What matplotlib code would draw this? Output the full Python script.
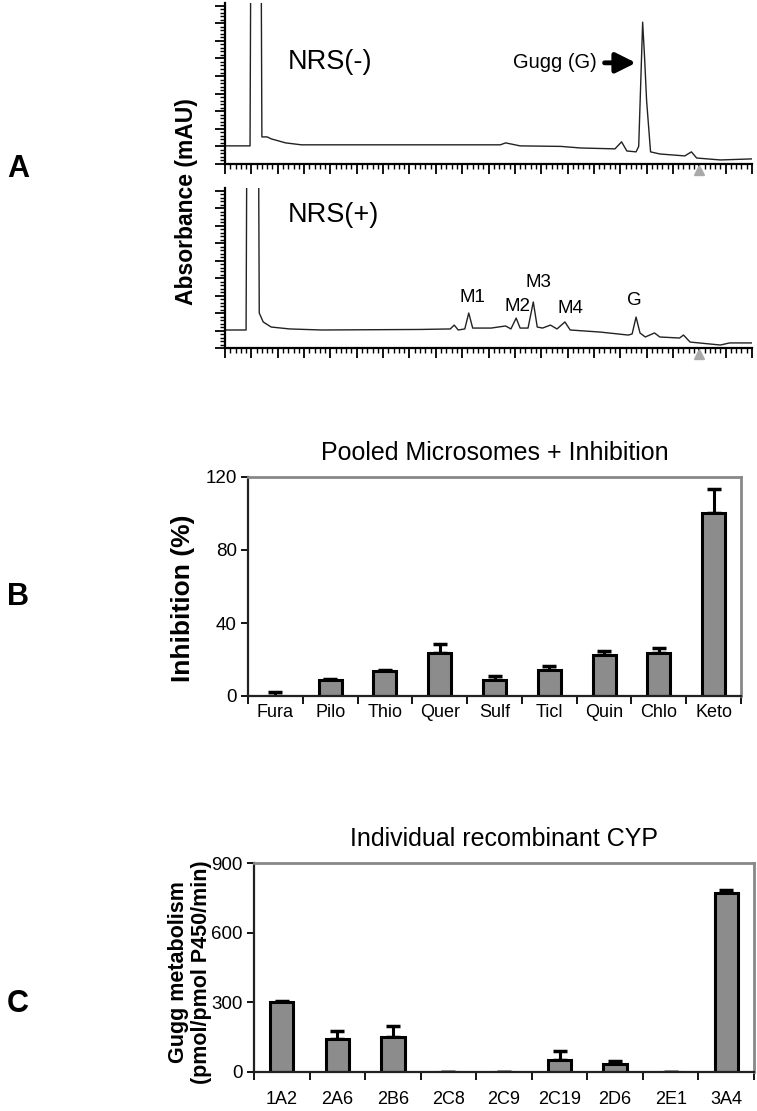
import matplotlib.pyplot as plt
from matplotlib.ticker import MultipleLocator

# chromatogram traces (time in min, absorbance in mAU)
t_minus = [0, 1.9, 2.0, 2.7, 2.8, 3.2, 3.5, 4.6, 5.8, 13.3, 20.9, 21.3, 22.4, 25.5, 27.0,
           29.6, 30.1, 30.5, 31.2, 31.4, 31.55, 31.7, 31.85, 32.0, 32.3, 33.0, 34.9, 35.4,
           35.8, 37.6, 40.0]
a_minus = [10.3, 10.3, 200, 200, 15.4, 15.4, 14.3, 12.0, 10.9, 10.9, 10.9, 12.0, 10.3, 10.0,
           9.1, 8.6, 12.6, 7.4, 6.9, 10, 45, 80.6, 60, 36, 6.9, 5.7, 4.6, 6.9, 3.4, 2.3, 2.9]

t_plus = [0, 1.6, 1.7, 2.5, 2.6, 2.9, 3.5, 4.9, 7.3, 14.8, 17.1, 17.4, 17.7, 18.2, 18.5,
          18.8, 20.2, 21.3, 21.7, 22.1, 22.4, 23.0, 23.4, 23.7, 24.1, 24.7, 25.2, 25.8,
          26.2, 28.5, 30.6, 30.9, 31.2, 31.5, 31.9, 32.6, 33.0, 34.5, 34.8, 35.3, 37.6,
          38.3, 40.0]
a_plus = [10.3, 10.3, 200, 200, 20.0, 14.9, 12.0, 10.9, 10.3, 10.6, 10.9, 13.1, 10.3, 10.9,
          20.0, 11.4, 11.4, 12.6, 10.9, 17.1, 11.4, 11.4, 26.3, 12.0, 11.4, 13.1, 10.9,
          14.9, 10.3, 9.1, 7.4, 8.0, 17.7, 8.6, 6.3, 8.6, 6.3, 5.7, 7.4, 3.4, 1.7, 2.9, 2.9]

peak_labels = ['M1', 'M2', 'M3', 'M4', 'G']
peak_t = [18.8, 22.2, 23.8, 26.2, 31.1]
peak_a = [29, 23.5, 37.5, 22.5, 27]

# panel B: pooled microsomes + inhibitors
inhibitors = ['Fura', 'Pilo', 'Thio', 'Quer', 'Sulf', 'Ticl', 'Quin', 'Chlo', 'Keto']
inhib_pct = [0, 9, 13.5, 23.5, 9, 14, 22.5, 23.5, 100]
inhib_err = [2, 0.5, 1, 5, 2, 2.2, 2, 3, 13.5]

# panel C: recombinant CYPs
cyps = ['1A2', '2A6', '2B6', '2C8', '2C9', '2C19', '2D6', '2E1', '3A4']
cyp_rate = [300, 141, 151, 0, 0, 50, 36, 0, 769]
cyp_err = [4, 35, 49, 0, 0, 41, 12, 0, 14]

plt.rcParams['font.family'] = ['Liberation Sans', 'DejaVu Sans']

W, H = 757, 1111
fig = plt.figure(figsize=(W / 100, H / 100), dpi=100)


def box(l, t, r, b):
    return [l / W, 1 - b / H, (r - l) / W, (b - t) / H]


def chrom(ax, t, a, tri_y):
    ax.plot(t, a, color='#222222', lw=1.0)
    ax.set_xlim(0, 40)
    ax.set_ylim(0, 91.5)
    for s in ['top', 'right']:
        ax.spines[s].set_visible(False)
    for s in ['left', 'bottom']:
        ax.spines[s].set_linewidth(1.6)
    ax.xaxis.set_major_locator(MultipleLocator(2))
    ax.xaxis.set_minor_locator(MultipleLocator(0.4))
    ax.yaxis.set_major_locator(MultipleLocator(10))
    ax.yaxis.set_minor_locator(MultipleLocator(2))
    ax.tick_params(which='major', length=7, width=1.3, labelbottom=False, labelleft=False)
    ax.tick_params(which='minor', length=3.5, width=1.0)
    ax.plot([36.0], [tri_y], marker='^', color='#aaaaaa', ms=7, clip_on=False)


ax1 = fig.add_axes(box(225, 3, 752, 164))
chrom(ax1, t_minus, a_minus, -3.6)
ax1.text(4.8, 58, 'NRS(-)', fontsize=19.5, va='center')
ax1.annotate('', xy=(31.4, 57.5), xytext=(28.6, 57.5),
             arrowprops=dict(arrowstyle='-|>', lw=3.5, color='black', mutation_scale=30))
ax1.text(28.2, 57.5, 'Gugg (G)', fontsize=14.5, va='center', ha='right')

ax2 = fig.add_axes(box(225, 188, 752, 348))
chrom(ax2, t_plus, a_plus, -3.2)
ax2.text(4.8, 76, 'NRS(+)', fontsize=19.5, va='center')
for lab, x, y in zip(peak_labels, peak_t, peak_a):
    ax2.text(x, y, lab, fontsize=13.5, ha='center', va='center')

fig.text(186 / W, 1 - 202 / H, 'Absorbance (mAU)', rotation=90, fontsize=16.5,
         fontweight='bold', ha='center', va='center')


def bars(ax, labels, vals, errs, ymax, step, title, xpad):
    x = list(range(len(labels)))
    ax.bar(x, vals, width=0.42, color='#8c8c8c', edgecolor='black', linewidth=2.2, zorder=2)
    ax.errorbar(x, vals, yerr=[[0] * len(vals), errs], fmt='none', ecolor='black',
                elinewidth=2.2, capsize=5, capthick=2.5, zorder=1)
    ax.set_xlim(-0.5, len(labels) - 0.5)
    ax.set_ylim(0, ymax)
    ax.set_yticks(range(0, ymax + 1, step))
    ax.set_xticks(x)
    ax.set_xticklabels(labels, fontsize=13)
    ax.set_xticks([i + 0.5 for i in range(-1, len(labels))], minor=True)
    ax.tick_params(axis='x', which='major', length=0, pad=xpad)
    ax.tick_params(axis='x', which='minor', length=6, width=1.3)
    ax.tick_params(axis='y', length=5, width=1.3, pad=3, labelsize=13.5)
    for s in ['left', 'bottom']:
        ax.spines[s].set_linewidth(1.6)
        ax.spines[s].set_color('#222222')
    for s in ['top', 'right']:
        ax.spines[s].set_linewidth(2)
        ax.spines[s].set_color('#888888')
    ax.set_title(title, fontsize=18, pad=12)


ax3 = fig.add_axes(box(248, 477, 741, 696))
bars(ax3, inhibitors, inhib_pct, inhib_err, 120, 40, 'Pooled Microsomes + Inhibition', 6)
fig.text(183 / W, 1 - 598 / H, 'Inhibition (%)', rotation=90, fontsize=19,
         fontweight='bold', ha='center', va='center')

ax4 = fig.add_axes(box(254, 863, 754, 1072))
bars(ax4, cyps, cyp_rate, cyp_err, 900, 300, 'Individual recombinant CYP', 14)
fig.text(190 / W, 1 - 972 / H, 'Gugg metabolism\n(pmol/pmol P450/min)', rotation=90,
         fontsize=15.5, fontweight='bold', ha='center', va='center', linespacing=1.1)

for lab, y in zip(['A', 'B', 'C'], [169, 597, 1004]):
    fig.text(18 / W, 1 - y / H, lab, fontsize=22, fontweight='bold', ha='center', va='center')

fig.savefig('out.png', dpi=100)
